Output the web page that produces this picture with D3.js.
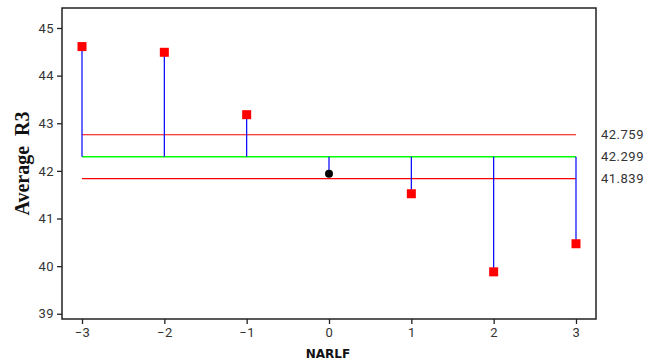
<!DOCTYPE html>
<html><head><meta charset="utf-8">
<script src="https://cdn.jsdelivr.net/npm/d3@7"></script>
<style>body{margin:0;background:#fff}svg{display:block}</style>
</head><body>
<svg id="c" width="661" height="362"></svg>
<script>
const xValues = [-3, -2, -1, 0, 1, 2, 3];
const avgValues = [44.61, 44.49, 43.18, 41.94, 41.52, 39.88, 40.47];
const centerLine = 42.299;
const upperLimit = 42.759;
const lowerLimit = 41.839;
const limitLabels = ["42.759", "42.299", "41.839"];
const yTicks = [39, 40, 41, 42, 43, 44, 45];
const xTicks = [-3, -2, -1, 0, 1, 2, 3];

const svg = d3.select("#c");
const L = 62, R = 596, T = 8, B = 319;
const x = d3.scaleLinear().domain([-3.243, 3.243]).range([L, R]);
const y = d3.scaleLinear().domain([38.89, 45.42]).range([B, T]);

const font = "Roboto, 'DejaVu Sans', sans-serif";

// frame
svg.append("rect").attr("x", L).attr("y", T).attr("width", R - L).attr("height", B - T)
  .attr("fill", "none").attr("stroke", "#222").attr("stroke-width", 1.5);

// axes
const ya = svg.append("g").attr("transform", `translate(${L},0)`)
  .call(d3.axisLeft(y).tickValues(yTicks).tickSize(5).tickPadding(3).tickFormat(d3.format("d")));
const xa = svg.append("g").attr("transform", `translate(0,${B})`)
  .call(d3.axisBottom(x).tickValues(xTicks).tickSize(5).tickPadding(4).tickFormat(d3.format("d")));
[ya, xa].forEach(g => {
  g.select(".domain").remove();
  g.selectAll("line").attr("stroke", "#222").attr("stroke-width", 1.3);
  g.selectAll("text").attr("font-family", font).attr("font-size", 13)
    .attr("letter-spacing", "0.5px").attr("fill", "#333");
});

const x0 = x(xValues[0]), x1 = x(xValues[xValues.length - 1]);
// limit lines
[upperLimit, lowerLimit].forEach(v => {
  svg.append("line").attr("x1", x0).attr("x2", x1).attr("y1", y(v)).attr("y2", y(v))
    .attr("stroke", "#ff0000").attr("stroke-width", 1.2);
});
svg.append("line").attr("x1", x0).attr("x2", x1).attr("y1", y(centerLine)).attr("y2", y(centerLine))
  .attr("stroke", "#00ff00").attr("stroke-width", 1.5);

// stems
svg.selectAll(".stem").data(xValues).enter().append("line")
  .attr("x1", d => x(d)).attr("x2", d => x(d))
  .attr("y1", y(centerLine)).attr("y2", (d, i) => y(avgValues[i]))
  .attr("stroke", "#0000ff").attr("stroke-width", 1.2);

// markers
xValues.forEach((d, i) => {
  const v = avgValues[i];
  const inside = v <= upperLimit && v >= lowerLimit;
  if (inside) {
    svg.append("circle").attr("cx", x(d)).attr("cy", y(v)).attr("r", 4).attr("fill", "#000");
  } else {
    svg.append("rect").attr("x", x(d) - 4.5).attr("y", y(v) - 4.5).attr("width", 9).attr("height", 9)
      .attr("fill", "#ff0000");
  }
});

// right labels
[upperLimit, centerLine, lowerLimit].forEach((v, i) => {
  svg.append("text").attr("x", 601).attr("y", y(v)).attr("dy", "0.35em")
    .attr("font-family", font).attr("font-size", 13).attr("letter-spacing", "0.5px")
    .attr("fill", "#333").text(limitLabels[i]);
});

// titles
svg.append("text").attr("transform", `translate(29,${(T + B) / 2}) rotate(-90)`)
  .attr("text-anchor", "middle").attr("font-family", "'Liberation Serif', 'DejaVu Serif', serif")
  .attr("font-weight", "bold").attr("font-size", 20).attr("fill", "#111")
  .attr("xml:space", "preserve").text("Average  R3");
svg.append("text").attr("x", (L + R) / 2 - 1).attr("y", 358).attr("text-anchor", "middle")
  .attr("font-family", "'DejaVu Sans', sans-serif").attr("font-weight", "bold").attr("font-size", 12)
  .attr("fill", "#111").text("NARLF");
</script>
</body></html>
